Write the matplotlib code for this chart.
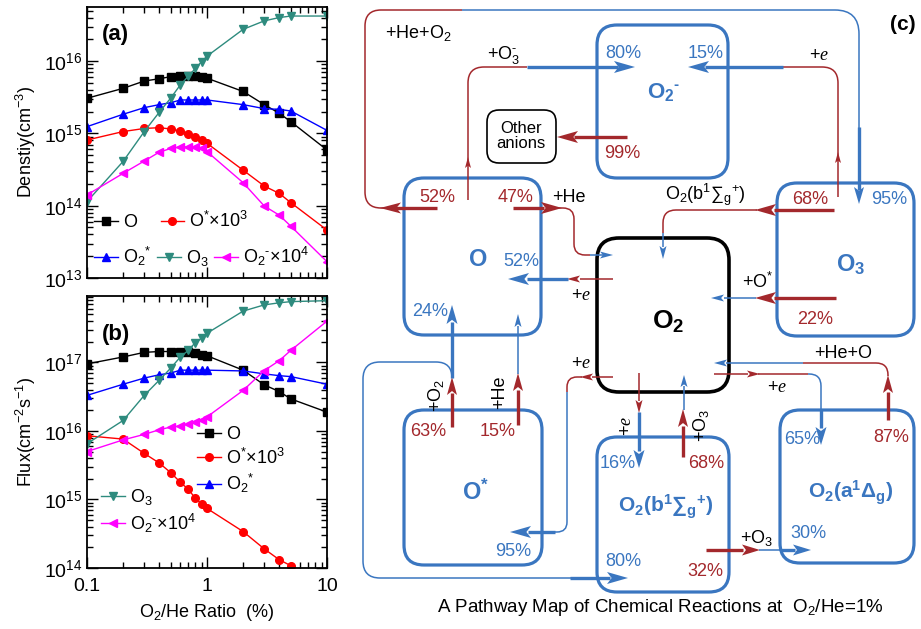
import numpy as np
import matplotlib
matplotlib.use("Agg")
import matplotlib.pyplot as plt
from matplotlib.path import Path
from matplotlib.patches import PathPatch, FancyBboxPatch, Polygon

plt.rcParams.update({
    "font.family": ["Liberation Sans", "DejaVu Sans"],
    "mathtext.fontset": "custom",
    "mathtext.rm": "Liberation Sans",
    "mathtext.it": "Liberation Serif:italic",
    "mathtext.bf": "Liberation Sans:bold",
    "mathtext.default": "regular",
})

# ---------------- data ----------------
ratio = [0.1, 0.2, 0.3, 0.4, 0.5, 0.6, 0.7, 0.8, 0.9, 1, 2, 3, 4, 5, 10]

# (a) densities, cm^-3
dens_O = [3.06e15, 4.2e15, 5.3e15, 5.7e15, 6.1e15, 6.2e15, 6.3e15, 6.3e15, 6.1e15,
          5.8e15, 3.8e15, 2.5e15, 1.9e15, 1.45e15, 5.9e14]
dens_Ostar = [8.1e14, 1.06e15, 1.17e15, 1.2e15, 1.15e15, 1.08e15, 9.7e14, 8.8e14, 8.1e14,
              7.3e14, 3.1e14, 1.87e14, 1.48e14, 1.1e14, 4.6e13]
dens_O2star = [1.24e15, 1.84e15, 2.27e15, 2.5e15, 2.66e15, 2.9e15, 2.9e15, 2.9e15, 2.9e15,
               2.9e15, 2.5e15, 2.2e15, 2.15e15, 2.04e15, 1.1e15]
dens_O3 = [1.14e14, 4.1e14, 1.06e15, 1.96e15, 3.1e15, 4.7e15, 6.2e15, 7.9e15, 9.8e15,
           1.17e16, 2.75e16, 3.6e16, 4.0e16, 4.2e16, 4.2e16]
dens_O2m = [1.41e14, 2.8e14, 4.15e14, 5.5e14, 6.2e14, 6.5e14, 6.5e14, 6.5e14, 6.2e14,
            5.6e14, 2.08e14, 9.9e13, 7.4e13, 5.2e13, 1.68e13]

# (b) fluxes, cm^-2 s^-1
flux_O = [9.5e16, 1.2e17, 1.4e17, 1.44e17, 1.44e17, 1.44e17, 1.43e17, 1.35e17, 1.29e17,
          1.25e17, 7.7e16, 4.7e16, 3.75e16, 2.93e16, 1.88e16]
flux_Ostar = [8.5e15, 7.6e15, 4.7e15, 3.4e15, 2.45e15, 1.78e15, 1.4e15, 1.04e15, 8.6e14,
              7.4e14, 3.4e14, 1.9e14, 1.32e14, 1.08e14, 4.5e13]
flux_O2star = [3.3e16, 4.8e16, 5.9e16, 6.6e16, 7.0e16, 7.7e16, 7.7e16, 7.7e16, 7.7e16,
               7.7e16, 7.5e16, 6.8e16, 6.4e16, 6.2e16, 4.8e16]
flux_O3 = [6.5e15, 1.42e16, 3.3e16, 5.5e16, 8.3e16, 1.2e17, 1.5e17, 1.95e17, 2.25e17,
           2.66e17, 5.6e17, 6.9e17, 7.4e17, 7.7e17, 7.95e17]
flux_O2m = [5.0e15, 7.4e15, 8.9e15, 1.04e16, 1.14e16, 1.18e16, 1.27e16, 1.35e16, 1.42e16,
            1.6e16, 3.9e16, 7.6e16, 1.06e17, 1.5e17, 4.0e17]

HY = "\u2010"   # short hyphen used as the anion charge sign
lab_O = "O"
lab_Ostar = "O$^{*}$×10$^{3}$"
lab_O2star = "O$_{2}$$^{*}$"
lab_O3 = "O$_{3}$"
lab_O2m = "O$_{2}$$^{" + HY + "}$×10$^{4}$"

# ---------------- figure ----------------
W, H = 921, 629
fig = plt.figure(figsize=(W / 100, H / 100), dpi=100)

TEAL = "#2E8B7E"
styles = {
    "O": dict(color="black", marker="s"),
    "Os": dict(color="#FF0000", marker="o"),
    "O2s": dict(color="#0000FF", marker="^"),
    "O3": dict(color=TEAL, marker="v"),
    "O2m": dict(color="#FF00FF", marker="<"),
}


def px_axes(left, top, right, bottom):
    return fig.add_axes([left / W, 1 - bottom / H, (right - left) / W, (bottom - top) / H])


def style_axes(ax):
    ax.set_xscale("log")
    ax.set_yscale("log")
    ax.set_xlim(0.1, 10)
    ax.tick_params(which="both", direction="in", top=True, right=True, labelsize=14, width=1.0)
    ax.tick_params(which="major", length=8)
    ax.tick_params(which="minor", length=4)
    ax.tick_params(axis="x", pad=7)
    for s in ax.spines.values():
        s.set_linewidth(1.3)


def draw_series(ax, ys_list):
    handles = {}
    for key, ys in ys_list:
        st = styles[key]
        (h,) = ax.plot(ratio, ys, color=st["color"], marker=st["marker"], lw=1.0,
                       ms=5.5, mec=st["color"], mfc=st["color"])
        handles[key] = h
    return handles


# panel (a)
ax_a = px_axes(87, 7, 327, 278)
style_axes(ax_a)
ax_a.set_ylim(1e13, 5.6e16)
ha = draw_series(ax_a, [("O", dens_O), ("Os", dens_Ostar), ("O2s", dens_O2star),
                        ("O3", dens_O3), ("O2m", dens_O2m)])
ax_a.tick_params(axis="x", labelbottom=False)
ax_a.set_ylabel("Denstiy(cm$^{-3}$)", fontsize=13, labelpad=4)
ax_a.text(0.06, 0.88, "(a)", transform=ax_a.transAxes, fontsize=16, fontweight="bold")
legkw = dict(frameon=False, fontsize=13, handlelength=1.3, handletextpad=0.3,
             borderpad=0, borderaxespad=0)
l1 = ax_a.legend([ha["O"], ha["Os"]], [lab_O, lab_Ostar], ncol=2, loc="center left",
                 bbox_to_anchor=(0.03, 0.21), columnspacing=1.3, **legkw)
ax_a.add_artist(l1)
ax_a.legend([ha["O2s"], ha["O3"], ha["O2m"]], [lab_O2star, lab_O3, lab_O2m], ncol=3,
            loc="center left", bbox_to_anchor=(0.03, 0.08), columnspacing=0.3, **legkw)

# panel (b)
ax_b = px_axes(87, 296, 327, 568)
style_axes(ax_b)
ax_b.set_ylim(1e14, 9.3e17)
hb = draw_series(ax_b, [("O", flux_O), ("Os", flux_Ostar), ("O2s", flux_O2star),
                        ("O3", flux_O3), ("O2m", flux_O2m)])
ax_b.set_xticks([0.1, 1, 10], labels=["0.1", "1", "10"])
ax_b.set_ylabel("Flux(cm$^{-2}$s$^{-1}$)", fontsize=13, labelpad=4)
ax_b.set_xlabel("O$_{2}$/He Ratio  (%)", fontsize=13, labelpad=5)
ax_b.text(0.06, 0.84, "(b)", transform=ax_b.transAxes, fontsize=16, fontweight="bold")
l2 = ax_b.legend([hb["O"], hb["Os"], hb["O2s"]], [lab_O, lab_Ostar, lab_O2star],
                 loc="center left", bbox_to_anchor=(0.46, 0.395), labelspacing=0.25, **legkw)
ax_b.add_artist(l2)
ax_b.legend([hb["O3"], hb["O2m"]], [lab_O3, lab_O2m], loc="center left",
            bbox_to_anchor=(0.06, 0.21), labelspacing=0.25, **legkw)

# ---------------- panel (c): reaction pathway map ----------------
ax_c = fig.add_axes([0, 0, 1, 1])
ax_c.set_xlim(0, W)
ax_c.set_ylim(H, 0)
ax_c.axis("off")
ax_c.patch.set_alpha(0)

BLUE = "#3A76C0"
RED = "#A3282C"
THICK, THIN = 2.4, 1.1


def box(x0, y0, x1, y1, color=BLUE, lw=2.3, r=20):
    ax_c.add_patch(FancyBboxPatch((x0, y0), x1 - x0, y1 - y0,
                                  boxstyle=f"round,pad=0,rounding_size={r}",
                                  fill=False, edgecolor=color, lw=lw))


def route(pts, color, lw, r=12):
    verts = [pts[0]]
    codes = [Path.MOVETO]
    for i in range(1, len(pts) - 1):
        p0, p1, p2 = (np.array(pts[j], float) for j in (i - 1, i, i + 1))
        d0 = (p1 - p0) / np.linalg.norm(p1 - p0)
        d1 = (p2 - p1) / np.linalg.norm(p2 - p1)
        rr = min(r, np.linalg.norm(p1 - p0), np.linalg.norm(p2 - p1))
        verts += [tuple(p1 - d0 * rr), tuple(p1), tuple(p1 + d1 * rr)]
        codes += [Path.LINETO, Path.CURVE3, Path.CURVE3]
    verts.append(pts[-1])
    codes.append(Path.LINETO)
    ax_c.add_patch(PathPatch(Path(verts, codes), fill=False, edgecolor=color, lw=lw,
                             capstyle="butt", joinstyle="round"))


DIRS = {"l": (-1, 0), "r": (1, 0), "u": (0, -1), "d": (0, 1)}


def head(tip, direction, color, L=19, Wd=12):
    d = np.array(DIRS[direction], float)
    n = np.array([-d[1], d[0]])
    t = np.array(tip, float)
    base = t - d * L
    pts = [t, base + n * Wd / 2, t - d * L * 0.78, base - n * Wd / 2]
    ax_c.add_patch(Polygon(pts, closed=True, facecolor=color, edgecolor="none"))


def txt(x, y, s, color="black", size=13, **kw):
    ax_c.text(x, y, s, color=color, fontsize=size, ha="center", va="center", **kw)


# species boxes
box(597, 25, 728, 178)                      # O2-
box(404, 178, 541, 335)                     # O
box(777, 183, 914, 336)                     # O3
box(404, 410, 542, 565)                     # O*
box(597, 437, 729, 592)                     # O2(b)
box(780, 410, 914, 563)                     # O2(a)
box(597, 238, 729, 392, color="black", lw=2.6, r=22)   # O2
box(487, 110, 556, 163, color="black", lw=1.2, r=12)   # other anions

# O -> O3 (outer loop, +He+O2)
route([(437, 208), (395, 208)], RED, THICK)
head((380, 208), "l", RED, L=21, Wd=11)
route([(384, 208), (365, 208), (365, 10), (462, 10)], RED, THIN, r=16)
route([(462, 10), (859, 10), (859, 130)], BLUE, THIN, r=24)
route([(859, 127), (859, 190)], BLUE, THICK)
head((859, 204), "d", BLUE, L=17, Wd=10)

# O -> O2- (+O3-)
route([(468, 200), (468, 67), (527, 67)], RED, THIN, r=16)
head((468, 157), "u", RED, L=11, Wd=6)
route([(527, 67), (618, 67)], BLUE, THICK)
head((635, 67), "r", BLUE, L=21, Wd=12)

# O3 -> O2- (+e)
route([(838, 197), (838, 67), (783, 67)], RED, THIN, r=16)
head((838, 152), "u", RED, L=11, Wd=6)
route([(783, 67), (705, 67)], BLUE, THICK)
head((688, 67), "l", BLUE, L=21, Wd=12)

# O2- -> other anions
route([(627, 137), (574, 137)], RED, THICK)
head((557, 137), "l", RED, L=21, Wd=12)

# O -> O2 (+He)
route([(513, 208), (544, 208)], RED, THICK)
head((562, 208), "r", RED, L=21, Wd=12)
route([(558, 208), (574, 208), (574, 255), (590, 255)], RED, THIN, r=11)
route([(590, 255), (603, 255)], BLUE, THIN)
head((613, 255), "r", BLUE, L=13, Wd=7)

# O2 -> O (+e)
route([(613, 279), (580, 279)], RED, THIN)
head((567, 279), "l", RED, L=13, Wd=7)
route([(568, 279), (527, 279)], BLUE, THICK)
head((508, 279), "l", BLUE, L=21, Wd=12)

# O* -> O (+O2)
route([(452, 427), (452, 393)], RED, THICK)
head((452, 377), "u", RED, L=18, Wd=10)
route([(452, 378), (452, 322)], BLUE, THICK)
head((452, 305), "u", BLUE, L=19, Wd=11)

# O* -> O (+He)
route([(518, 425), (518, 390)], RED, THICK)
head((518, 373), "u", RED, L=18, Wd=10)
route([(518, 374), (518, 326)], BLUE, THIN)
head((518, 314), "u", BLUE, L=13, Wd=7)

# O* -> O2(b) loop
route([(452, 378), (452, 362), (363, 362), (363, 578), (600, 578)], BLUE, THIN, r=17)
route([(570, 578), (610, 578)], BLUE, THICK)
head((628, 578), "r", BLUE, L=21, Wd=12)

# O2 -> O* (+e)
route([(613, 377), (592, 377)], RED, THIN)
head((580, 377), "l", RED, L=13, Wd=7)
route([(582, 377), (567, 377), (567, 392)], RED, THIN, r=10)
route([(567, 392), (567, 532), (553, 532)], BLUE, THIN, r=10)
route([(555, 532), (528, 532)], BLUE, THICK)
head((510, 532), "l", BLUE, L=21, Wd=12)

# O3 -> O2 (O2(b) channel)
route([(834, 210), (774, 210)], RED, THICK)
head((755, 210), "l", RED, L=21, Wd=12)
route([(757, 210), (663, 210), (663, 233)], RED, THIN, r=13)
route([(663, 233), (663, 247)], BLUE, THIN)
head((663, 259), "d", BLUE, L=13, Wd=7)

# O3 -> O2 (+O*)
route([(836, 298), (774, 298)], RED, THICK)
head((755, 298), "l", RED, L=21, Wd=12)
route([(756, 298), (724, 298)], BLUE, THIN)
head((711, 298), "l", BLUE, L=13, Wd=7)

# O2(a) -> O2 (+He+O)
route([(888, 420), (888, 392)], RED, THICK)
head((888, 375), "u", RED, L=18, Wd=10)
route([(888, 376), (888, 363), (803, 363)], RED, THIN, r=12)
route([(803, 363), (726, 363)], BLUE, THIN)
head((714, 363), "l", BLUE, L=13, Wd=7)

# O2 -> O2(a) (+e)
route([(714, 374), (748, 374)], RED, THIN)
head((760, 374), "r", RED, L=13, Wd=7)
route([(758, 374), (808, 374)], RED, THIN)
route([(808, 374), (821, 374), (821, 415)], BLUE, THIN, r=12)
route([(821, 410), (821, 428)], BLUE, THICK)
head((821, 445), "d", BLUE, L=18, Wd=11)

# O2 -> O2(b) (+e)
route([(639, 373), (639, 401)], RED, THIN)
head((639, 413), "d", RED, L=13, Wd=7)
route([(639, 412), (639, 451)], BLUE, THICK)
head((639, 468), "d", BLUE, L=18, Wd=11)

# O2(b) -> O2 (+O3)
route([(683, 457), (683, 426)], RED, THICK)
head((683, 409), "u", RED, L=18, Wd=10)
route([(684, 410), (684, 386)], BLUE, THIN)
head((684, 375), "u", BLUE, L=12, Wd=7)

# O2(b) -> O2(a) (+O3)
route([(706, 550), (743, 550)], RED, THICK)
head((760, 550), "r", RED, L=18, Wd=11)
route([(759, 550), (782, 550)], BLUE, THIN)
route([(781, 550), (795, 550)], BLUE, THICK)
head((811, 550), "r", BLUE, L=18, Wd=11)

# reaction labels
txt(418, 33, "+He+O$_{2}$")
txt(504, 55, "+O$_{3}^{" + HY + "}$")
txt(569, 197, "+He")
txt(819, 55, "+$\\mathit{e}$")
txt(581, 295, "+$\\mathit{e}$")
txt(581, 363, "+$\\mathit{e}$")
txt(705, 195, "O$_{2}$(b$^{1}$∑$_{g}$$^{+}$)")
txt(758, 282, "+O$^{*}$")
txt(843, 353, "+He+O")
txt(777, 387, "+$\\mathit{e}$")
txt(626, 426, "+$\\mathit{e}$", rotation=90)
txt(701, 425, "+O$_{3}$", rotation=90)
txt(757, 538, "+O$_{3}$")
txt(436, 395, "+O$_{2}$", rotation=90)
txt(500, 392, "+He", rotation=90)
txt(521, 136, "Other\nanions", size=12, linespacing=1.0)

# branching percentages
pct = [
    (623, 53, "80%", BLUE), (706, 53, "15%", BLUE), (622, 153, "99%", RED),
    (437, 197, "52%", RED), (516, 197, "47%", RED), (810, 200, "68%", RED),
    (889, 200, "95%", BLUE), (521, 262, "52%", BLUE), (430, 312, "24%", BLUE),
    (815, 320, "22%", RED), (428, 432, "63%", RED), (498, 432, "15%", RED),
    (513, 552, "95%", BLUE), (618, 463, "16%", BLUE), (706, 463, "68%", RED),
    (802, 440, "65%", BLUE), (891, 438, "87%", RED), (808, 533, "30%", BLUE),
    (623, 562, "80%", BLUE), (705, 572, "32%", RED),
]
for x, y, s, c in pct:
    txt(x, y, s, color=c, size=13)

# species names
txt(664, 93, "O$_{2}$$^{" + HY + "}$", color=BLUE, size=16, fontweight="bold")
txt(478, 259, "O", color=BLUE, size=17, fontweight="bold")
txt(851, 265, "O$_{3}$", color=BLUE, size=17, fontweight="bold")
txt(668, 322, "O$_{2}$", color="black", size=19, fontweight="bold")
txt(476, 492, "O$^{*}$", color=BLUE, size=17, fontweight="bold")
txt(666, 507, "O$_{2}$(b$^{1}$∑$_{g}$$^{+}$)", color=BLUE, size=15, fontweight="bold")
txt(851, 493, "O$_{2}$(a$^{1}$Δ$_{g}$)", color=BLUE, size=15, fontweight="bold")

txt(903, 25, "(c)", size=15, fontweight="bold")
txt(660, 607, "A Pathway Map of Chemical Reactions at  O$_{2}$/He=1%", size=13.5)

fig.savefig("out.png", dpi=100)
